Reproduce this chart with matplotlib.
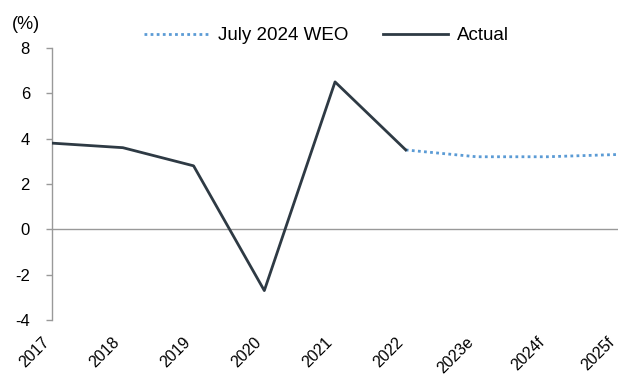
import matplotlib
matplotlib.use("Agg")
import matplotlib.pyplot as plt

plt.rcParams['font.family'] = ['Liberation Sans', 'DejaVu Sans']

categories = ["2017", "2018", "2019", "2020", "2021", "2022", "2023e", "2024f", "2025f"]
actual = [3.8, 3.6, 2.8, -2.7, 6.5, 3.5]
weo_cats = ["2022", "2023e", "2024f", "2025f"]
weo = [3.5, 3.2, 3.2, 3.3]
yticks = [-4, -2, 0, 2, 4, 6, 8]

fig = plt.figure(figsize=(6.28, 3.77), dpi=100)
ax = fig.add_axes([0.083, 0.151, 0.901, 0.722])

xa = [categories.index(c) for c in categories[:len(actual)]]
xw = [categories.index(c) for c in weo_cats]

ax.axhline(0, color='#999999', lw=1, zorder=1)
lw_, = ax.plot(xw, weo, color='#5B9BD5', lw=2, linestyle=(0, (1, 1.2)), zorder=3)
la_, = ax.plot(xa, actual, color='#2E3A44', lw=2, zorder=4)

ax.set_xlim(0, len(categories) - 1)
ax.set_ylim(-4, 8)
ax.set_yticks(yticks)
ax.set_yticklabels([str(t) for t in yticks])
ax.set_xticks(range(len(categories)))
ax.set_xticklabels(categories, rotation=45, ha='right', va='top')

for s in ['top', 'right', 'bottom']:
    ax.spines[s].set_visible(False)
ax.spines['left'].set_color('#999999')
ax.spines['left'].set_linewidth(1)
ax.tick_params(axis='y', colors='#999999', labelcolor='black', labelsize=12, length=4, width=1, pad=12)
ax.tick_params(axis='x', length=0, labelsize=11.5, pad=10.5)

fig.text(0.019, 0.935, "(%)", fontsize=13, ha='left', va='center')

fig.legend([lw_, la_], ["July 2024 WEO", "Actual"], loc='center', bbox_to_anchor=(0.52, 0.905),
           ncol=2, frameon=False, fontsize=13.5, handlelength=3.5, columnspacing=1.8,
           handletextpad=0.45)

fig.savefig("out.png", dpi=100)
